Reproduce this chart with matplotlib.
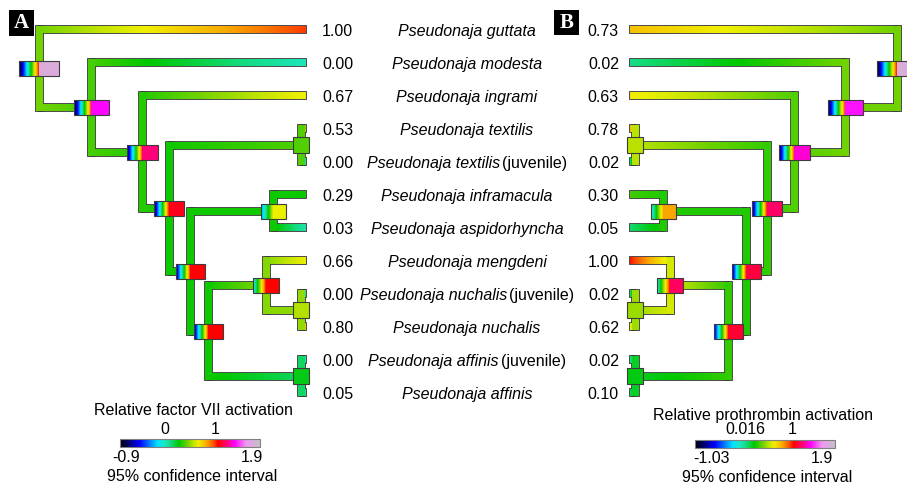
import numpy as np
import matplotlib
matplotlib.use("Agg")
import matplotlib.pyplot as plt
from matplotlib.colors import LinearSegmentedColormap, Normalize
from matplotlib.patches import Rectangle
from matplotlib.transforms import offset_copy, blended_transform_factory

# ---------------- data ----------------
species = ["Pseudonaja guttata", "Pseudonaja modesta", "Pseudonaja ingrami",
           "Pseudonaja textilis", "Pseudonaja textilis (juvenile)",
           "Pseudonaja inframacula", "Pseudonaja aspidorhyncha",
           "Pseudonaja mengdeni", "Pseudonaja nuchalis (juvenile)",
           "Pseudonaja nuchalis", "Pseudonaja affinis (juvenile)",
           "Pseudonaja affinis"]
factorVII = [1.00, 0.00, 0.67, 0.53, 0.00, 0.29, 0.03, 0.66, 0.00, 0.80, 0.00, 0.05]
prothrombin = [0.73, 0.02, 0.63, 0.78, 0.02, 0.30, 0.05, 1.00, 0.02, 0.62, 0.02, 0.10]

# tree topology: internal node -> children (ints are tip indices)
node_children = {
    "tex": [3, 4], "nuc": [8, 9], "aff": [10, 11], "inf": [5, 6],
    "men": [7, "nuc"], "c5": ["men", "aff"], "c4": ["inf", "c5"],
    "c3": ["tex", "c4"], "c2": [2, "c3"], "c1": [1, "c2"], "root": [0, "c1"],
}
# node heights (distance from the tips, drawing units)
node_height = {"tex": 5, "nuc": 5, "aff": 5, "inf": 33, "men": 40, "c5": 98,
               "c4": 116, "c3": 137, "c2": 164, "c1": 215, "root": 267}

statesA = {"root": 0.45, "c1": 0.38, "c2": 0.33, "c3": 0.30, "c4": 0.30, "c5": 0.30,
           "tex": 0.40, "inf": 0.30, "men": 0.48, "nuc": 0.50, "aff": 0.15}
statesB = {"root": 0.38, "c1": 0.38, "c2": 0.33, "c3": 0.28, "c4": 0.25, "c5": 0.28,
           "tex": 0.50, "inf": 0.25, "men": 0.55, "nuc": 0.45, "aff": 0.15}
# 95% confidence intervals at nodes
ciA = {"root": (-0.9, 1.75), "c1": (-0.9, 1.40), "c2": (-0.8, 1.24), "c3": (-0.8, 1.10),
       "c4": (-0.7, 1.06), "c5": (-0.7, 1.06), "inf": (-0.3, 0.66), "men": (-0.15, 1.06),
       "tex": (0.40, 0.40), "nuc": (0.55, 0.55), "aff": (0.25, 0.25)}
ciB = {"root": (-1.03, 1.75), "c1": (-1.0, 1.40), "c2": (-0.95, 1.32), "c3": (-0.9, 1.18),
       "c4": (-0.8, 1.12), "c5": (-0.75, 1.10), "inf": (-0.25, 0.79), "men": (-0.15, 1.17),
       "tex": (0.50, 0.50), "nuc": (0.45, 0.45), "aff": (0.18, 0.18)}
rangeA = (-0.9, 1.9)
rangeB = (-1.03, 1.9)
ticksA = [0, 1]
ticksB = [0.016, 1]
titleA = "Relative factor VII activation"
titleB = "Relative prothrombin activation"

# ---------------- style ----------------
W, H = 907, 488
ROW0, ROW = 30.0, 33.0          # pixel y of first tip, row spacing
BR = 7.0                        # branch width in px
box_w = {"root": 40, "c1": 35, "c2": 31, "c3": 30, "c4": 29, "c5": 29,
         "inf": 25, "men": 26, "tex": 16, "nuc": 16, "aff": 16}
EDGE = "#3c3c3c"
plt.rcParams["font.family"] = ["Liberation Sans", "DejaVu Sans"]

anchors = [(0.00, "#000000"), (0.07, "#000080"), (0.14, "#0000ff"), (0.27, "#00e6ff"),
           (0.32, "#1ee6be"), (0.36, "#14dc82"), (0.42, "#00c800"), (0.48, "#6ed200"),
           (0.53, "#c8e600"), (0.56, "#f0f000"), (0.62, "#faaa00"), (0.67, "#fa5000"),
           (0.70, "#ff0000"), (0.76, "#ff006e"), (0.82, "#ff00ff"), (0.90, "#f096f0"),
           (1.00, "#c3c3c3")]
cmap = LinearSegmentedColormap.from_list("ci", anchors, N=1024)

fig = plt.figure(figsize=(W / 100, H / 100), dpi=100)


def node_y(n):
    if isinstance(n, int):
        return float(n)
    return float(np.mean([node_y(c) for c in node_children[n]]))


def height(n):
    return 0.0 if isinstance(n, int) else float(node_height[n])


def make_axes():
    ax = fig.add_axes([0, 0, 1, 1])
    ax.set_axis_off()
    ax.patch.set_visible(False)
    return ax


def draw_tree(ax, sgn, tipvals, states, ci, vrange):
    norm = Normalize(*vrange)
    wy = BR / ROW

    def st(n):
        return tipvals[n] if isinstance(n, int) else states[n]

    for n, kids in node_children.items():
        hp, sp = height(n), st(n)
        ys = [node_y(c) for c in kids]
        # horizontal branches (gradient)
        for c in kids:
            hc, yc = height(c), node_y(c)
            g = cmap(norm(np.linspace(sp, st(c), 300)))[None, :, :3]
            ax.imshow(g, extent=(hp, hc, yc - wy / 2, yc + wy / 2), aspect="auto",
                      interpolation="nearest", zorder=2)
            ax.add_patch(Rectangle((min(hp, hc), yc - wy / 2), abs(hp - hc), wy,
                                   fill=False, ec=EDGE, lw=1.3, zorder=1))
        # vertical connector
        y0, y1 = min(ys) - wy / 2, max(ys) + wy / 2
        ax.add_patch(Rectangle((hp - BR / 2, y0), BR, y1 - y0, fc=cmap(norm(sp)),
                               ec="none", zorder=2.5))
        ax.add_patch(Rectangle((hp - BR / 2, y0), BR, y1 - y0, fill=False, ec=EDGE,
                               lw=1.3, zorder=1))
    # confidence-interval boxes
    for n in node_children:
        lo, hi = ci[n]
        h, y = height(n), node_y(n)
        bw = box_w[n]
        bh = (16.0 if lo == hi else 15.0) / ROW
        flo, fhi = norm(lo), norm(hi)
        fend = min(fhi, 0.70)
        t = np.linspace(0, 1, 200)
        f = np.where(t < 0.5, flo + (t / 0.5) * (fend - flo), fhi)
        g = cmap(f)[None, :, :3]
        xl, xr = h - sgn * bw / 2, h + sgn * bw / 2
        ax.imshow(g, extent=(xl, xr, y - bh / 2, y + bh / 2), aspect="auto",
                  interpolation="nearest", zorder=3)
        ax.add_patch(Rectangle((min(xl, xr), y - bh / 2), bw, bh, fill=False,
                               ec=EDGE, lw=0.8, zorder=4))


def set_limits(ax, xlim):
    ax.set_xlim(*xlim)
    ax.set_ylim((H - ROW0) / ROW, -ROW0 / ROW)


# ---------- panel A (tips at px 306, tree grows left) ----------
axA = make_axes()
draw_tree(axA, -1, factorVII, statesA, ciA, rangeA)
set_limits(axA, (306, 306 - W))
# ---------- panel B (tips at px 630, tree grows right) ----------
axB = make_axes()
draw_tree(axB, +1, prothrombin, statesB, ciB, rangeB)
set_limits(axB, (-630, W - 630))

# tip value labels
for i, v in enumerate(factorVII):
    axA.text(-16, i + 1.5 / ROW, f"{v:.2f}", ha="left", va="center", fontsize=11.5)
for i, v in enumerate(prothrombin):
    axB.text(-11, i + 1.5 / ROW, f"{v:.2f}", ha="right", va="center", fontsize=11.5)

# species names (centred between the two panels)
renderer = fig.canvas.get_renderer()
NAME_X = -161
for i, name in enumerate(species):
    yy = i + 1.5 / ROW
    kw = dict(va="center", fontsize=11.5)
    if name.endswith("(juvenile)"):
        base = name[: -len(" (juvenile)")]
        t1 = axA.text(NAME_X, yy, base, fontstyle="italic", ha="left", **kw)
        t2 = axA.text(NAME_X, yy, "(juvenile)", ha="left", **kw)
        w1 = t1.get_window_extent(renderer).width
        w2 = t2.get_window_extent(renderer).width
        gap = 2.0
        tot = w1 + gap + w2
        t1.set_transform(offset_copy(axA.transData, fig=fig, x=-tot / 2, y=0, units="dots"))
        t2.set_transform(offset_copy(axA.transData, fig=fig, x=-tot / 2 + w1 + gap, y=0,
                                     units="dots"))
    else:
        axA.text(NAME_X, yy, name, fontstyle="italic", ha="center", **kw)

# ---------- colour bars ----------
def colorbar(x0, y0, w, h, vrange, ticks, title, min_off, max_off, title_off):
    cax = fig.add_axes([x0 / W, 1 - (y0 + h) / H, w / W, h / H])
    grad = cmap(np.linspace(0, 1, 512))[None, :, :3]
    cax.imshow(grad, extent=(vrange[0], vrange[1], 0, 1), aspect="auto",
               interpolation="bilinear")
    cax.set_xlim(*vrange)
    cax.set_ylim(0, 1)
    cax.set_axis_off()
    cax.add_patch(Rectangle((0, 0), 1, 1, transform=cax.transAxes, fill=False,
                            ec="#808080", lw=0.8, clip_on=False))
    tr = blended_transform_factory(cax.transData, cax.transAxes)
    mid = 0.5 * (vrange[0] + vrange[1])
    fs = 11.5
    cax.annotate(title, xy=(mid, 1), xycoords=tr, xytext=(title_off[0], title_off[1]),
                 textcoords="offset points", ha="center", va="center", fontsize=fs)
    for tv in ticks:
        cax.annotate(f"{tv:g}", xy=(tv, 1), xycoords=tr, xytext=(0, 7.2),
                     textcoords="offset points", ha="center", va="center", fontsize=fs)
    cax.annotate(f"{vrange[0]:g}", xy=(vrange[0], 0), xycoords=tr, xytext=(min_off, -7.6),
                 textcoords="offset points", ha="left", va="center", fontsize=fs)
    cax.annotate(f"{vrange[1]:g}", xy=(vrange[1], 0), xycoords=tr, xytext=(max_off, -7.6),
                 textcoords="offset points", ha="right", va="center", fontsize=fs)
    cax.annotate("95% confidence interval", xy=(mid, 0), xycoords=tr,
                 xytext=(1.5, -21.5), textcoords="offset points", ha="center",
                 va="center", fontsize=fs)


colorbar(120, 439, 140, 8, rangeA, ticksA, titleA, -5.8, 2.2, (2.2, 20.2))
colorbar(695, 440, 140, 8, rangeB, ticksB, titleB, -1.5, -1.5, (-1.5, 17.5))

# ---------- panel letters ----------
axO = fig.add_axes([0, 0, 1, 1])
axO.set_axis_off()
axO.patch.set_visible(False)
axO.set_xlim(0, W)
axO.set_ylim(H, 0)
for (lx, ly, lw_, lh_), lab in [((9, 10, 25, 26), "A"), ((554, 10, 25, 25), "B")]:
    axO.add_patch(Rectangle((lx, ly), lw_, lh_, fc="black", ec="none"))
    axO.text(lx + lw_ / 2, ly + lh_ / 2 + 0.5, lab, color="white", ha="center",
             va="center", fontsize=15, fontweight="bold",
             family=["Liberation Serif", "DejaVu Serif"])

fig.savefig("out.png", dpi=100)
